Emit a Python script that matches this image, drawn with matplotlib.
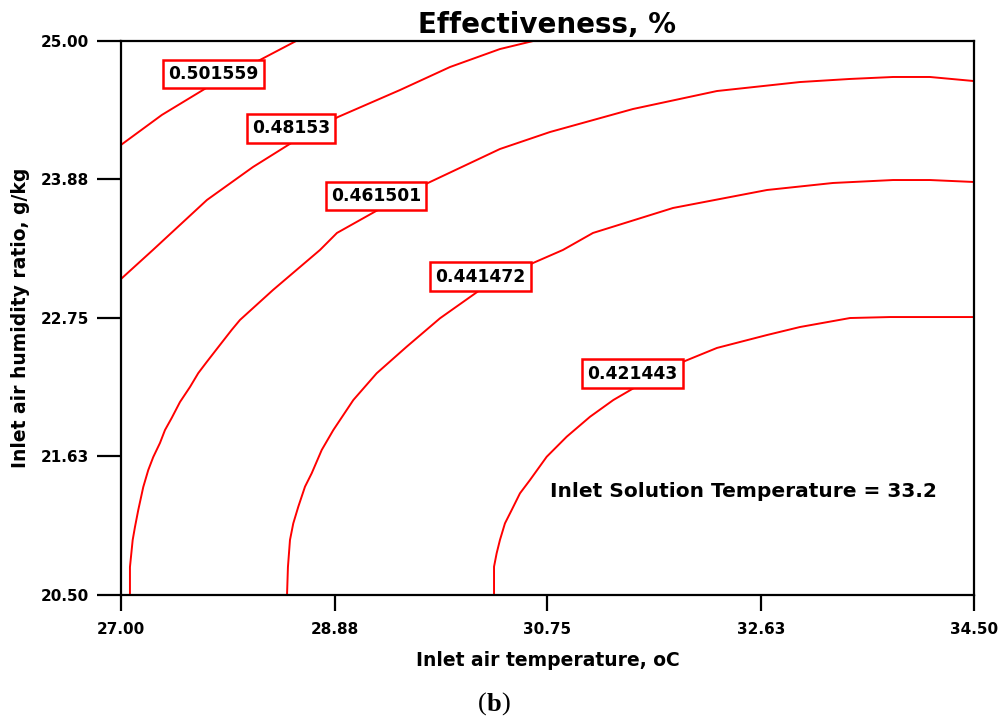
import matplotlib
matplotlib.use("Agg")
import matplotlib.pyplot as plt

plt.rcParams['font.family'] = ['DejaVu Sans']
plt.rcParams['font.weight'] = 'bold'

# axis ranges and ticks
x_ticks = [27.00, 28.88, 30.75, 32.63, 34.50]
y_ticks = [20.50, 21.63, 22.75, 23.88, 25.00]

# contour levels and their traced paths (inlet air temperature, humidity ratio)
levels = ["0.501559", "0.48153", "0.461501", "0.441472", "0.421443"]

c_0501559_x = [27.00, 27.36, 27.765, 28.205, 28.539]
c_0501559_y = [24.156, 24.40, 24.627, 24.838, 25.00]

c_048153_x = [27.00, 27.281, 27.756, 28.161, 28.512, 28.908, 29.453, 29.893, 30.332, 30.623]
c_048153_y = [23.067, 23.303, 23.709, 23.977, 24.180, 24.383, 24.602, 24.789, 24.935, 25.00]

c_0461501_x = [27.079, 27.079, 27.103, 27.123, 27.152, 27.196, 27.240, 27.284, 27.343, 27.387,
               27.446, 27.519, 27.607, 27.680, 27.754, 27.870, 27.973, 28.046, 28.337, 28.750,
               28.899, 29.260, 29.699, 30.332, 30.772, 31.502, 32.240, 32.970, 33.410, 33.788,
               34.113, 34.50]
c_0461501_y = [20.50, 20.727, 20.947, 21.052, 21.190, 21.377, 21.515, 21.621, 21.735, 21.840,
               21.938, 22.068, 22.190, 22.303, 22.393, 22.531, 22.653, 22.734, 22.978, 23.303,
               23.441, 23.628, 23.847, 24.123, 24.261, 24.448, 24.594, 24.667, 24.692, 24.708,
               24.708, 24.675]

c_0441472_x = [28.460, 28.468, 28.486, 28.515, 28.559, 28.618, 28.677, 28.765, 28.867, 29.043,
               29.248, 29.512, 29.805, 30.157, 30.623, 30.886, 31.150, 31.854, 32.680, 33.260,
               33.788, 34.113, 34.50]
c_0441472_y = [20.50, 20.727, 20.947, 21.082, 21.217, 21.380, 21.489, 21.678, 21.840, 22.084,
               22.301, 22.517, 22.748, 22.978, 23.197, 23.303, 23.441, 23.644, 23.790, 23.847,
               23.871, 23.871, 23.855]

c_0421443_x = [30.280, 30.280, 30.303, 30.332, 30.376, 30.435, 30.508, 30.596, 30.743, 30.919,
               31.124, 31.329, 31.520, 31.959, 32.240, 32.680, 32.970, 33.410, 33.762, 34.50]
c_0421443_y = [20.50, 20.730, 20.839, 20.947, 21.082, 21.190, 21.326, 21.434, 21.623, 21.786,
               21.948, 22.084, 22.187, 22.401, 22.507, 22.612, 22.677, 22.750, 22.758, 22.758]

paths_x = [c_0501559_x, c_048153_x, c_0461501_x, c_0441472_x, c_0421443_x]
paths_y = [c_0501559_y, c_048153_y, c_0461501_y, c_0441472_y, c_0421443_y]

# where each level label sits on its line
label_x = [27.813, 28.495, 29.242, 30.161, 31.498]
label_y = [24.732, 24.290, 23.741, 23.087, 22.299]

fig = plt.figure(figsize=(10.03, 7.20), dpi=100)
ax = fig.add_axes([0.1206, 0.1736, 0.8505, 0.7694])

for px, py in zip(paths_x, paths_y):
    ax.plot(px, py, color='red', lw=1.4, solid_capstyle='butt', solid_joinstyle='round')

for lab, lx, ly in zip(levels, label_x, label_y):
    ax.text(lx, ly, lab, ha='center', va='center', fontsize=12.3, fontweight='bold',
            color='black', zorder=5,
            bbox=dict(boxstyle='square,pad=0.3', fc='white', ec='red', lw=1.8))

ax.text(30.772, 21.337, "Inlet Solution Temperature = 33.2", ha='left', va='center',
        fontsize=14.5, fontweight='bold')

ax.set_xlim(27.0, 34.5)
ax.set_ylim(20.5, 25.0)
ax.set_xticks(x_ticks)
ax.set_xticklabels(["%.2f" % v for v in x_ticks])
ax.set_yticks(y_ticks)
ax.set_yticklabels(["%.2f" % v for v in y_ticks])
for lbl in ax.get_xticklabels() + ax.get_yticklabels():
    lbl.set_fontweight('bold')
    lbl.set_fontsize(11)

ax.tick_params(axis='y', direction='out', length=17, width=1.6, pad=6)
ax.tick_params(axis='x', direction='out', length=11.5, width=1.6, pad=8)
for sp in ax.spines.values():
    sp.set_linewidth(1.6)
    sp.set_color('black')

ax.set_title("Effectiveness, %", fontsize=20, fontweight='bold', pad=6)
ax.set_xlabel("Inlet air temperature, oC", fontsize=13.5, fontweight='bold', labelpad=10)
ax.set_ylabel("Inlet air humidity ratio, g/kg", fontsize=13.5, fontweight='bold', labelpad=8)

# panel tag, bold letter inside plain parentheses
t1 = fig.text(0.476, 0.013, "(", fontsize=19, family='Liberation Serif', fontweight='normal')
a2 = ax.annotate("b", xy=(1, 0), xycoords=t1, ha='left', va='bottom', fontsize=19,
                 family='Liberation Serif', fontweight='bold', annotation_clip=False)
ax.annotate(")", xy=(1, 0), xycoords=a2, ha='left', va='bottom', fontsize=19,
            family='Liberation Serif', fontweight='normal', annotation_clip=False)

fig.savefig("out.png", dpi=100)
